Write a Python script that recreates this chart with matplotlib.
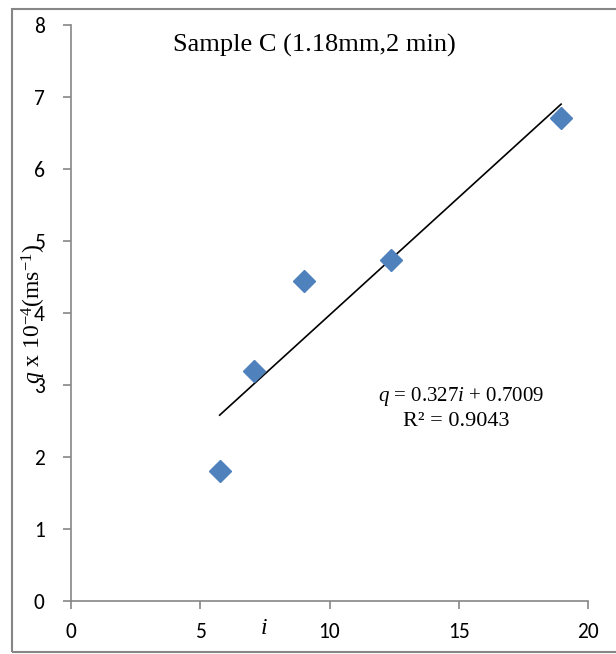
import matplotlib
matplotlib.use("Agg")
import matplotlib.pyplot as plt
from matplotlib.patches import Rectangle
import numpy as np
import logging
logging.getLogger('matplotlib.font_manager').setLevel(logging.ERROR)

i_vals = [5.75, 7.07, 9.03, 12.36, 18.96]
q_vals = [1.80, 3.19, 4.44, 4.74, 6.71]
slope = 0.327
intercept = 0.7009
x_ticks = [0, 5, 10, 15, 20]
y_ticks = [0, 1, 2, 3, 4, 5, 6, 7, 8]
title = "Sample C (1.18mm,2 min)"

serif = 'Liberation Serif'
plt.rcParams['mathtext.fontset'] = 'custom'
plt.rcParams['mathtext.rm'] = serif
plt.rcParams['mathtext.it'] = serif + ':italic'

W, H = 616, 654
fig = plt.figure(figsize=(W/100, H/100), dpi=100)
ax = fig.add_axes([71/W, 1-601/H, (588-71)/W, (601-25)/H])

ax.plot(i_vals, q_vals, linestyle='none', marker='D', markersize=11,
        color='#4F81BD', markeredgecolor='#4F81BD', zorder=3)
xs = np.array([min(i_vals), max(i_vals)])
ax.plot(xs, slope*xs + intercept, color='black', linewidth=1.2, zorder=2)

ax.set_xlim(0, 20)
ax.set_ylim(0, 8)
ax.set_xticks(x_ticks)
ax.set_yticks(y_ticks)
for s in ['top', 'right']:
    ax.spines[s].set_visible(False)
for s in ['left', 'bottom']:
    ax.spines[s].set_color('#868686')
    ax.spines[s].set_linewidth(1.2)
ax.tick_params(axis='both', direction='out', length=6, width=1.2, color='#868686',
               labelsize=15.5)
ax.tick_params(axis='x', pad=9)
ax.tick_params(axis='y', pad=13)
for lab in ax.get_xticklabels() + ax.get_yticklabels():
    lab.set_fontfamily(['Carlito', 'Lato'])

fig.text(314/W, 1-45/H, title, ha='center', va='center', fontsize=19, family=serif)
fig.text(264/W, 1-629/H, 'i', ha='center', va='center', fontsize=17, family=serif,
         style='italic')
fig.text(34/W, 1-314/H, r'$\mathit{q}$ x 10$^{\mathregular{-4}}$(ms$^{\mathregular{-1}}$)',
         rotation=90, ha='center', va='center', fontsize=17, family=serif)
fig.text(461/W, 1-397/H, r'$\mathit{q}$ = 0.327$\mathit{i}$ + 0.7009', ha='center', va='center',
         fontsize=15, family=serif)
fig.text(456/W, 1-421/H, 'R² = 0.9043', ha='center', va='center', fontsize=16, family=serif)

fig.patches.append(Rectangle((12/W, 2/H), (630-12)/W, (645-2)/H, transform=fig.transFigure,
                             fill=False, edgecolor='#868686', linewidth=1.5))

fig.savefig('out.png', dpi=100)
